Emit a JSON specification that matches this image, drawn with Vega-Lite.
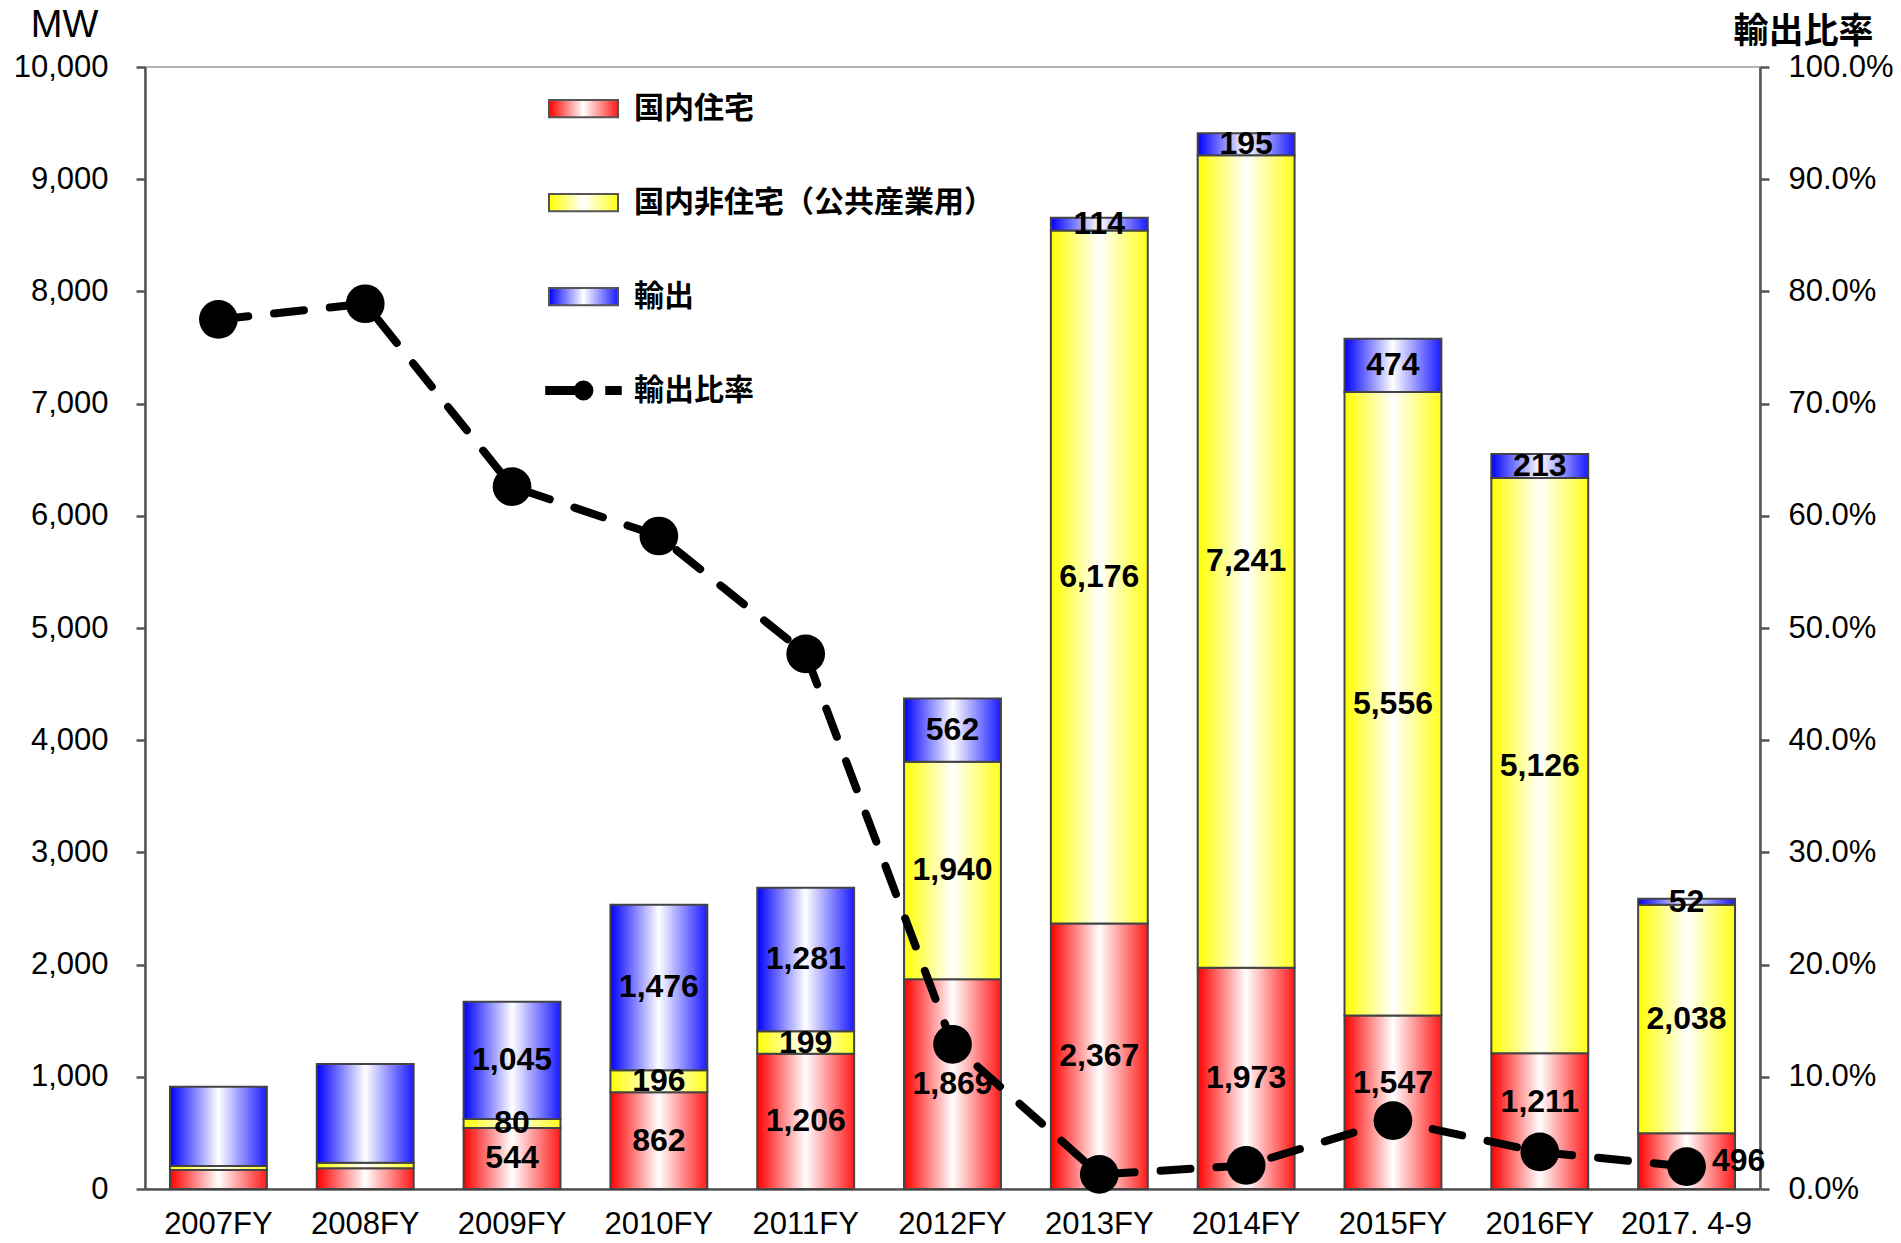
{
  "$schema": "https://vega.github.io/schema/vega-lite/v6.json",
  "width": 1615,
  "height": 1122,
  "autosize": {"type": "none"},
  "padding": {"left": 145, "top": 67, "right": 141, "bottom": 54},
  "background": "white",
  "config": {
    "view": {"stroke": "#999", "strokeWidth": 1.5},
    "font": "Liberation Sans",
    "axis": {"domainColor": "#555", "domainWidth": 2.5, "tickColor": "#555", "tickWidth": 2.5, "labelColor": "#000", "labelFont": "Liberation Sans", "grid": false, "titleColor": "#000"}
  },
  "datasets": {
    "bars": [
      {"cat": "2007FY", "series": "国内住宅", "value": 170},
      {"cat": "2007FY", "series": "国内非住宅（公共産業用）", "value": 35},
      {"cat": "2007FY", "series": "輸出", "value": 706},
      {"cat": "2008FY", "series": "国内住宅", "value": 185},
      {"cat": "2008FY", "series": "国内非住宅（公共産業用）", "value": 50},
      {"cat": "2008FY", "series": "輸出", "value": 880},
      {"cat": "2009FY", "series": "国内住宅", "value": 544},
      {"cat": "2009FY", "series": "国内非住宅（公共産業用）", "value": 80},
      {"cat": "2009FY", "series": "輸出", "value": 1045},
      {"cat": "2010FY", "series": "国内住宅", "value": 862},
      {"cat": "2010FY", "series": "国内非住宅（公共産業用）", "value": 196},
      {"cat": "2010FY", "series": "輸出", "value": 1476},
      {"cat": "2011FY", "series": "国内住宅", "value": 1206},
      {"cat": "2011FY", "series": "国内非住宅（公共産業用）", "value": 199},
      {"cat": "2011FY", "series": "輸出", "value": 1281},
      {"cat": "2012FY", "series": "国内住宅", "value": 1869},
      {"cat": "2012FY", "series": "国内非住宅（公共産業用）", "value": 1940},
      {"cat": "2012FY", "series": "輸出", "value": 562},
      {"cat": "2013FY", "series": "国内住宅", "value": 2367},
      {"cat": "2013FY", "series": "国内非住宅（公共産業用）", "value": 6176},
      {"cat": "2013FY", "series": "輸出", "value": 114},
      {"cat": "2014FY", "series": "国内住宅", "value": 1973},
      {"cat": "2014FY", "series": "国内非住宅（公共産業用）", "value": 7241},
      {"cat": "2014FY", "series": "輸出", "value": 195},
      {"cat": "2015FY", "series": "国内住宅", "value": 1547},
      {"cat": "2015FY", "series": "国内非住宅（公共産業用）", "value": 5556},
      {"cat": "2015FY", "series": "輸出", "value": 474},
      {"cat": "2016FY", "series": "国内住宅", "value": 1211},
      {"cat": "2016FY", "series": "国内非住宅（公共産業用）", "value": 5126},
      {"cat": "2016FY", "series": "輸出", "value": 213},
      {"cat": "2017. 4-9", "series": "国内住宅", "value": 496},
      {"cat": "2017. 4-9", "series": "国内非住宅（公共産業用）", "value": 2038},
      {"cat": "2017. 4-9", "series": "輸出", "value": 52}
    ],
    "ratio": [
      {"cat": "2007FY", "ratio": 0.775},
      {"cat": "2008FY", "ratio": 0.789},
      {"cat": "2009FY", "ratio": 0.626},
      {"cat": "2010FY", "ratio": 0.582},
      {"cat": "2011FY", "ratio": 0.477},
      {"cat": "2012FY", "ratio": 0.129},
      {"cat": "2013FY", "ratio": 0.013},
      {"cat": "2014FY", "ratio": 0.021},
      {"cat": "2015FY", "ratio": 0.061},
      {"cat": "2016FY", "ratio": 0.033},
      {"cat": "2017. 4-9", "ratio": 0.020}
    ]
  },
  "layer": [
    {
      "data": {"name": "bars"},
      "transform": [
        {"stack": "value", "groupby": ["cat"], "sort": [{"field": "series", "order": "ascending"}], "as": ["y0", "y1"]}
      ],
      "layer": [
        {
          "transform": [{"filter": "datum.series === '国内住宅'"}],
          "mark": {"type": "bar", "stroke": "#444", "strokeWidth": 2,
            "fill": {"gradient": "linear", "x1": 0, "y1": 0, "x2": 1, "y2": 0, "stops": [{"offset": 0, "color": "#ff0000"}, {"offset": 0.5, "color": "#ffffff"}, {"offset": 1, "color": "#ff1a1a"}]}},
          "encoding": {
            "x": {"field": "cat", "type": "nominal", "sort": null,
              "scale": {"domain": ["2007FY", "2008FY", "2009FY", "2010FY", "2011FY", "2012FY", "2013FY", "2014FY", "2015FY", "2016FY", "2017. 4-9"], "paddingInner": 0.34, "paddingOuter": 0.17},
              "axis": {"title": null, "labelAngle": 0, "ticks": false, "labelFontSize": 31, "labelPadding": 20}},
            "y": {"field": "y0", "type": "quantitative", "scale": {"domain": [0, 10000]},
              "axis": {"orient": "left", "values": [0, 1000, 2000, 3000, 4000, 5000, 6000, 7000, 8000, 9000, 10000], "format": ",.0f", "labelFontSize": 31, "labelPadding": 28, "tickSize": 9,
                "title": "MW", "titleAngle": 0, "titleX": -81, "titleY": -42, "titleAlign": "center", "titleBaseline": "middle", "titleFontSize": 38, "titleFontWeight": "normal"}},
            "y2": {"field": "y1"}
          }
        },
        {
          "transform": [{"filter": "datum.series === '国内非住宅（公共産業用）'"}],
          "mark": {"type": "bar", "stroke": "#444", "strokeWidth": 2,
            "fill": {"gradient": "linear", "x1": 0, "y1": 0, "x2": 1, "y2": 0, "stops": [{"offset": 0, "color": "#ffff00"}, {"offset": 0.5, "color": "#ffffff"}, {"offset": 1, "color": "#ffff1a"}]}},
          "encoding": {
            "x": {"field": "cat", "type": "nominal"},
            "y": {"field": "y0", "type": "quantitative"},
            "y2": {"field": "y1"}
          }
        },
        {
          "transform": [{"filter": "datum.series === '輸出'"}],
          "mark": {"type": "bar", "stroke": "#444", "strokeWidth": 2,
            "fill": {"gradient": "linear", "x1": 0, "y1": 0, "x2": 1, "y2": 0, "stops": [{"offset": 0, "color": "#0000ff"}, {"offset": 0.5, "color": "#ffffff"}, {"offset": 1, "color": "#1a1aff"}]}},
          "encoding": {
            "x": {"field": "cat", "type": "nominal"},
            "y": {"field": "y0", "type": "quantitative"},
            "y2": {"field": "y1"}
          }
        },
        {
          "transform": [
            {"filter": "datum.cat !== '2007FY' && datum.cat !== '2008FY'"},
            {"fold": ["y0", "y1"], "as": ["edge", "pos"]},
            {"aggregate": [{"op": "mean", "field": "pos", "as": "mid"}], "groupby": ["cat", "series", "value"]}
          ],
          "layer": [
            {
              "transform": [{"filter": "!(datum.series === '国内住宅' && (datum.cat === '2015FY' || datum.cat === '2016FY' || datum.cat === '2017. 4-9'))"}],
              "mark": {"type": "text", "fontWeight": "bold", "fontSize": 32, "color": "#000", "baseline": "middle"},
              "encoding": {
                "x": {"field": "cat", "type": "nominal"},
                "y": {"field": "mid", "type": "quantitative"},
                "text": {"field": "value", "type": "quantitative", "format": ",.0f"}
              }
            },
            {
              "transform": [{"filter": "datum.series === '国内住宅' && (datum.cat === '2015FY' || datum.cat === '2016FY')"}],
              "mark": {"type": "text", "fontWeight": "bold", "fontSize": 32, "color": "#000", "baseline": "middle", "dy": -19},
              "encoding": {
                "x": {"field": "cat", "type": "nominal"},
                "y": {"field": "mid", "type": "quantitative"},
                "text": {"field": "value", "type": "quantitative", "format": ",.0f"}
              }
            },
            {
              "transform": [{"filter": "datum.series === '国内住宅' && datum.cat === '2017. 4-9'"}],
              "mark": {"type": "text", "fontWeight": "bold", "fontSize": 32, "color": "#000", "baseline": "middle", "dx": 52},
              "encoding": {
                "x": {"field": "cat", "type": "nominal"},
                "y": {"field": "mid", "type": "quantitative"},
                "text": {"field": "value", "type": "quantitative", "format": ",.0f"}
              }
            }
          ]
        }
      ]
    },
    {
      "data": {"name": "ratio"},
      "layer": [
        {
          "mark": {"type": "line", "strokeWidth": 8, "strokeDash": [30, 26], "strokeCap": "round"},
          "encoding": {
            "x": {"field": "cat", "type": "nominal"},
            "y": {"field": "ratio", "type": "quantitative", "scale": {"domain": [0, 1]},
              "axis": {"orient": "right", "values": [0, 0.1, 0.2, 0.3, 0.4, 0.5, 0.6, 0.7, 0.8, 0.9, 1], "format": ".1%", "labelFontSize": 31, "labelPadding": 19, "tickSize": 9,
                "title": "輸出比率", "titleAngle": 0, "titleX": 43, "titleY": -36, "titleAlign": "center", "titleBaseline": "middle", "titleFontSize": 35, "titleFontWeight": "bold", "titleFont": "Noto Sans CJK JP"}},
            "color": {"datum": "輸出比率", "type": "nominal",
              "scale": {"domain": ["国内住宅", "国内非住宅（公共産業用）", "輸出", "輸出比率"], "range": ["#555555", "#555555", "#555555", "#000000"]},
              "legend": {
                "orient": "none", "legendX": 403, "legendY": 6, "title": null, "direction": "vertical",
                "symbolType": "M-1,-0.25H1V0.25H-1Z", "symbolSize": 4761, "symbolStrokeWidth": 2,
                "labelFontSize": 30, "labelFont": "Noto Sans CJK JP", "labelFontWeight": "bold", "labelColor": "#000", "labelOffset": 15, "labelLimit": 600, "rowPadding": 43, "symbolLimit": 0,
                "encode": {
                  "symbols": {
                    "update": {
                      "shape": [
                        {"test": "datum.value === '輸出比率'", "value": "M-1.08,-0.1H-0.25V0.1H-1.08Z M-0.26,0A0.26,0.26 0 1,1 0.26,0A0.26,0.26 0 1,1 -0.26,0Z M0.66,-0.1H1.08V0.1H0.66Z"},
                        {"value": "M-1,-0.25H1V0.25H-1Z"}
                      ],
                      "fill": [
                        {"test": "datum.value === '国内住宅'", "value": {"gradient": "linear", "x1": 0, "y1": 0, "x2": 1, "y2": 0, "stops": [{"offset": 0, "color": "#ff0000"}, {"offset": 0.5, "color": "#ffffff"}, {"offset": 1, "color": "#ff1a1a"}]}},
                        {"test": "datum.value === '輸出'", "value": {"gradient": "linear", "x1": 0, "y1": 0, "x2": 1, "y2": 0, "stops": [{"offset": 0, "color": "#0000ff"}, {"offset": 0.5, "color": "#ffffff"}, {"offset": 1, "color": "#1a1aff"}]}},
                        {"test": "datum.value === '輸出比率'", "value": "#000000"},
                        {"value": {"gradient": "linear", "x1": 0, "y1": 0, "x2": 1, "y2": 0, "stops": [{"offset": 0, "color": "#ffff00"}, {"offset": 0.5, "color": "#ffffff"}, {"offset": 1, "color": "#ffff1a"}]}}
                      ],
                      "fillOpacity": {"value": 1}
                    }
                  }
                }
              }
            }
          }
        },
        {
          "mark": {"type": "point", "filled": true, "color": "#000", "size": 1500, "opacity": 1, "shape": "circle"},
          "encoding": {
            "x": {"field": "cat", "type": "nominal"},
            "y": {"field": "ratio", "type": "quantitative"}
          }
        }
      ]
    }
  ],
  "resolve": {"scale": {"y": "independent"}}
}
